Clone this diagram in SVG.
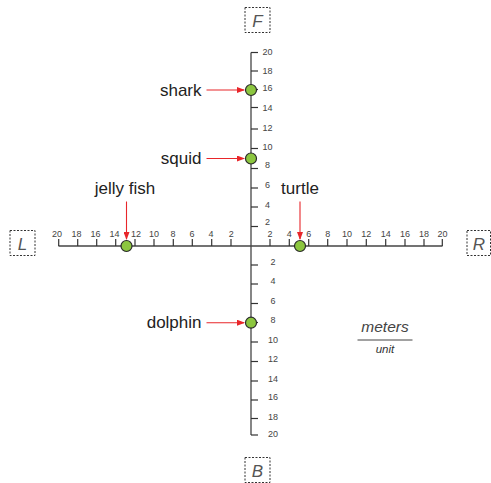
<svg xmlns="http://www.w3.org/2000/svg" width="491" height="483" viewBox="0 0 491 483">
<style>
.ax{stroke:#444;stroke-width:1.3;fill:none}
.tk{stroke:#333;stroke-width:1.2}
.n{font-family:"Liberation Sans",Arial,sans-serif;font-size:9px;fill:#444}
.lb{font-family:"Liberation Sans",Arial,sans-serif;font-size:17px;fill:#222}
.bx{fill:#fff;stroke:#333;stroke-width:1;stroke-dasharray:2,1.5}
.hl{font-family:"Liberation Sans",Arial,sans-serif;font-style:italic;font-size:17px;fill:#555;text-anchor:middle}
.dot{fill:#8cc63f;stroke:#2a2a2a;stroke-width:1.2}
.ar{stroke:#e8262a;stroke-width:1.1;fill:none;marker-end:url(#ah)}
</style>
<defs>
<marker id="ah" viewBox="0 0 8 6" refX="7" refY="3" markerWidth="8" markerHeight="6" markerUnits="userSpaceOnUse" orient="auto">
<path d="M0,0 L8,3 L0,6 Z" fill="#e8262a"/>
</marker>
</defs>
<g id="axes">
<line class="ax" x1="251" y1="52.5" x2="251" y2="435"/>
<line class="ax" x1="58.5" y1="246" x2="442.5" y2="246"/>
<g class="tk">
<line x1="251" y1="52.5" x2="258" y2="52.5"/><line x1="251" y1="71" x2="258" y2="71"/><line x1="251" y1="89.5" x2="258" y2="89.5"/><line x1="251" y1="107.5" x2="258" y2="107.5"/><line x1="251" y1="129" x2="258" y2="129"/><line x1="251" y1="148.5" x2="258" y2="148.5"/><line x1="251" y1="168.5" x2="258" y2="168.5"/><line x1="251" y1="188" x2="258" y2="188"/><line x1="251" y1="207" x2="258" y2="207"/><line x1="251" y1="226.5" x2="258" y2="226.5"/>
<line x1="251" y1="265" x2="258" y2="265"/><line x1="251" y1="284" x2="258" y2="284"/><line x1="251" y1="303.5" x2="258" y2="303.5"/><line x1="251" y1="322.5" x2="258" y2="322.5"/><line x1="251" y1="342" x2="258" y2="342"/><line x1="251" y1="361.5" x2="258" y2="361.5"/><line x1="251" y1="381" x2="258" y2="381"/><line x1="251" y1="400" x2="258" y2="400"/><line x1="251" y1="418.5" x2="258" y2="418.5"/><line x1="251" y1="435" x2="258" y2="435"/>
<line x1="58.7" y1="246" x2="58.7" y2="239"/><line x1="77.7" y1="246" x2="77.7" y2="239"/><line x1="96.7" y1="246" x2="96.7" y2="239"/><line x1="115.7" y1="246" x2="115.7" y2="239"/><line x1="135" y1="246" x2="135" y2="239"/><line x1="154" y1="246" x2="154" y2="239"/><line x1="173.3" y1="246" x2="173.3" y2="239"/><line x1="192.3" y1="246" x2="192.3" y2="239"/><line x1="211.7" y1="246" x2="211.7" y2="239"/><line x1="231" y1="246" x2="231" y2="239"/>
<line x1="270" y1="246" x2="270" y2="239"/><line x1="289.3" y1="246" x2="289.3" y2="239"/><line x1="308.7" y1="246" x2="308.7" y2="239"/><line x1="327.7" y1="246" x2="327.7" y2="239"/><line x1="347" y1="246" x2="347" y2="239"/><line x1="366.3" y1="246" x2="366.3" y2="239"/><line x1="385.7" y1="246" x2="385.7" y2="239"/><line x1="405" y1="246" x2="405" y2="239"/><line x1="424" y1="246" x2="424" y2="239"/><line x1="442.3" y1="246" x2="442.3" y2="239"/>
</g>
<g class="n" text-anchor="middle">
<text x="267.5" y="55">20</text><text x="267.5" y="74">18</text><text x="267.5" y="91">16</text><text x="267.5" y="110.5">14</text><text x="267.5" y="130.5">12</text><text x="267.5" y="150">10</text><text x="267.5" y="168">8</text><text x="267.5" y="188">6</text><text x="267.5" y="207.5">4</text><text x="267.5" y="225">2</text>
<text x="273" y="265">2</text><text x="273" y="284">4</text><text x="273" y="304">6</text><text x="273" y="323">8</text><text x="273" y="342.5">10</text><text x="273" y="362">12</text><text x="273" y="381.5">14</text><text x="273" y="400">16</text><text x="273" y="420">18</text><text x="273" y="436.5">20</text>
<text x="57" y="237.3">20</text><text x="76.5" y="237.3">18</text><text x="95.5" y="237.3">16</text><text x="114.5" y="237.3">14</text><text x="136" y="237.3">12</text><text x="154" y="237.3">10</text><text x="173" y="237.3">8</text><text x="192" y="237.3">6</text><text x="211" y="237.3">4</text><text x="231.3" y="237.3">2</text>
<text x="270" y="237.3">2</text><text x="289.3" y="237.3">4</text><text x="308.7" y="237.3">6</text><text x="327.7" y="237.3">8</text><text x="347" y="237.3">10</text><text x="366.3" y="237.3">12</text><text x="385.7" y="237.3">14</text><text x="405" y="237.3">16</text><text x="424" y="237.3">18</text><text x="442.5" y="237.3">20</text>
</g>
</g>
<g id="connectors">
<line class="ar" x1="206.5" y1="90" x2="244" y2="90"/>
<line class="ar" x1="206.5" y1="158.5" x2="244" y2="158.5"/>
<line class="ar" x1="206.5" y1="322.7" x2="244" y2="322.7"/>
<line class="ar" x1="126.5" y1="201.5" x2="126.5" y2="239"/>
<line class="ar" x1="300" y1="201.5" x2="300" y2="239"/>
</g>
<g id="shark"><text class="lb" x="201.5" y="95.5" text-anchor="end">shark</text><circle class="dot" cx="251" cy="90" r="5.5"/></g>
<g id="squid"><text class="lb" x="201.5" y="164" text-anchor="end">squid</text><circle class="dot" cx="251" cy="158.5" r="5.5"/></g>
<g id="dolphin"><text class="lb" x="201.5" y="328" text-anchor="end">dolphin</text><circle class="dot" cx="251" cy="322.7" r="5.5"/></g>
<g id="jellyfish"><text class="lb" x="125" y="194" text-anchor="middle">jelly fish</text><circle class="dot" cx="126.5" cy="246" r="5.5"/></g>
<g id="turtle"><text class="lb" x="300" y="194" text-anchor="middle">turtle</text><circle class="dot" cx="300" cy="246" r="5.5"/></g>
<g id="F"><rect class="bx" x="245" y="7.5" width="25" height="25"/><text class="hl" x="257.5" y="26.5">F</text></g>
<g id="B"><rect class="bx" x="245" y="457.5" width="25" height="25"/><text class="hl" x="257.5" y="476.5">B</text></g>
<g id="L"><rect class="bx" x="10" y="230.5" width="25" height="25"/><text class="hl" x="22.5" y="249.5">L</text></g>
<g id="R"><rect class="bx" x="467" y="230.5" width="23.5" height="25"/><text class="hl" x="479" y="249.5">R</text></g>
<g id="units">
<text x="385" y="332" text-anchor="middle" font-family="'Liberation Sans',Arial,sans-serif" font-style="italic" font-size="15.5" fill="#444">meters</text>
<line x1="357.5" y1="340" x2="412.5" y2="340" stroke="#444" stroke-width="1"/>
<text x="385" y="352.5" text-anchor="middle" font-family="'Liberation Sans',Arial,sans-serif" font-style="italic" font-size="11.5" fill="#333">unit</text>
</g>
</svg>
